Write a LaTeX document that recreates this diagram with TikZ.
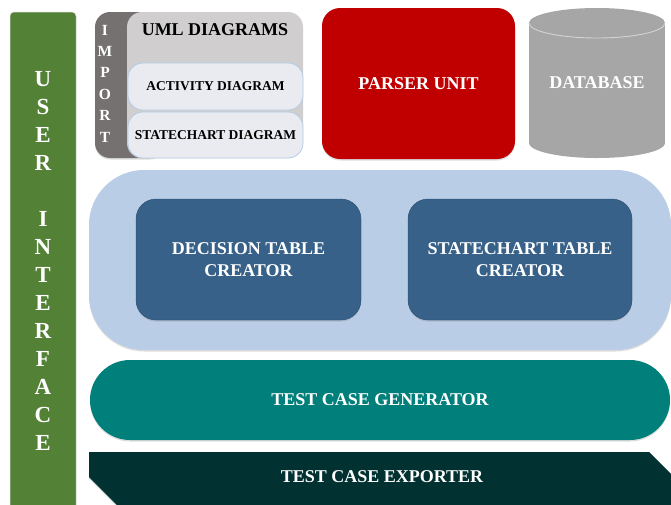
\documentclass[tikz,border=0pt]{standalone}
\usepackage{fontspec}
\setmainfont{Liberation Serif}
\usetikzlibrary{shadows}

\definecolor{uigreen}{HTML}{538135}
\definecolor{importgray}{HTML}{767171}
\definecolor{umlgray}{HTML}{D0CECE}
\definecolor{diagfill}{HTML}{E9EBF0}
\definecolor{diagline}{HTML}{B4CCE6}
\definecolor{parserred}{HTML}{C00000}
\definecolor{dbgray}{HTML}{A6A6A6}
\definecolor{dbline}{HTML}{D4D4D4}
\definecolor{tablepanel}{HTML}{BACDE6}
\definecolor{tablebox}{HTML}{376188}
\definecolor{gencolor}{HTML}{007F7B}
\definecolor{expcolor}{HTML}{013130}

\newcommand\headfont{\fontsize{18}{22}\selectfont\bfseries}
\newcommand\smallhead{\fontsize{13.5}{17}\selectfont\bfseries}

\begin{document}
\begin{tikzpicture}[x=1pt, y=-1pt,
  block/.style={rectangle, inner sep=0pt, text=white, font=\headfont, align=center},
  softshadow/.style={drop shadow={shadow xshift=0pt, shadow yshift=-1.5pt, opacity=0.22, fill=black!60}},
  diagbox/.style={rectangle, rounded corners=15pt, inner sep=0pt, fill=diagfill, draw=diagline, line width=0.8pt,
                  minimum width=175pt, font=\smallhead, text=black},
  stack/.style={inner sep=0pt, align=center, text=white, font=\bfseries}]
\useasboundingbox (0,0) rectangle (671,504);
\clip (0,0) rectangle (671,504);

% user interface bar on the left
\node[rectangle, rounded corners=4pt, fill=uigreen, draw=black!15, line width=0.5pt,
      minimum width=66pt, minimum height=500pt, inner sep=0pt] (ui) at (43,262) {};
\node[stack, font=\fontsize{23}{28}\selectfont\bfseries] (uitext) at (43,261)
  {U\\S\\E\\R\\\mbox{}\\I\\N\\T\\E\\R\\F\\A\\C\\E};

% import strip with the UML diagrams panel on top
\node[rectangle, rounded corners=15pt, fill=importgray, minimum width=70pt, minimum height=146pt,
      inner sep=0pt, softshadow] (import) at (130,85) {};
\node[stack, font=\fontsize{15.5}{21.4}\selectfont\bfseries] (importtext) at (105,83.5)
  {I\\M\\P\\O\\R\\T};
\node[rectangle, rounded corners=15pt, fill=umlgray, minimum width=176pt, minimum height=146pt,
      inner sep=0pt] (uml) at (215,85) {};
\node[font=\headfont, text=black, inner sep=0pt] (umltitle) at (215,30) {UML DIAGRAMS};
\node[diagbox, minimum height=47pt] (activity) at (215.5,86.5) {ACTIVITY DIAGRAM};
\node[diagbox, minimum height=46pt] (statechart) at (215.5,135) {STATECHART DIAGRAM};

% parser unit
\node[block, rounded corners=18pt, fill=parserred, minimum width=193pt, minimum height=151pt,
      softshadow] (parser) at (418.5,83.5) {PARSER UNIT};

% database cylinder: body, bottom cap and top cap with its front rim
\fill[dbgray, softshadow] (529,23) rectangle (665,143);
\fill[dbgray] (597,143) ellipse [x radius=68pt, y radius=15pt];
\fill[dbgray] (597,23) ellipse [x radius=68pt, y radius=15pt];
\begin{scope}
  \clip (527,23) rectangle (667,40);
  \draw[dbline, line width=0.9pt] (597,23) ellipse [x radius=68pt, y radius=15pt];
\end{scope}
\node[font=\headfont, text=white, inner sep=0pt] (database) at (597,83) {DATABASE};

% table creators
\node[rectangle, rounded corners=55pt, fill=tablepanel, minimum width=582pt, minimum height=180pt,
      inner sep=0pt, softshadow] (tables) at (380,260) {};
\node[block, rounded corners=20pt, fill=tablebox, draw=tablebox!80!black, line width=0.4pt,
      minimum width=225pt, minimum height=121pt, softshadow] (decision) at (248.5,259.5)
  {DECISION TABLE\\CREATOR};
\node[block, rounded corners=20pt, fill=tablebox, draw=tablebox!80!black, line width=0.4pt,
      minimum width=224pt, minimum height=121pt, softshadow] (statetable) at (520,259.5)
  {STATECHART TABLE\\CREATOR};

% test case generator
\node[block, rounded corners=40pt, fill=gencolor, minimum width=580pt, minimum height=80pt,
      softshadow] (generator) at (380,400) {TEST CASE GENERATOR};

% test case exporter
\fill[expcolor, softshadow] (89,452) -- (649,452) -- (671,474) -- (671,520) -- (132,520)
  -- (89,477) -- cycle;
\node[font=\headfont, text=white, inner sep=0pt] (exporter) at (382,477) {TEST CASE EXPORTER};
\end{tikzpicture}
\end{document}
